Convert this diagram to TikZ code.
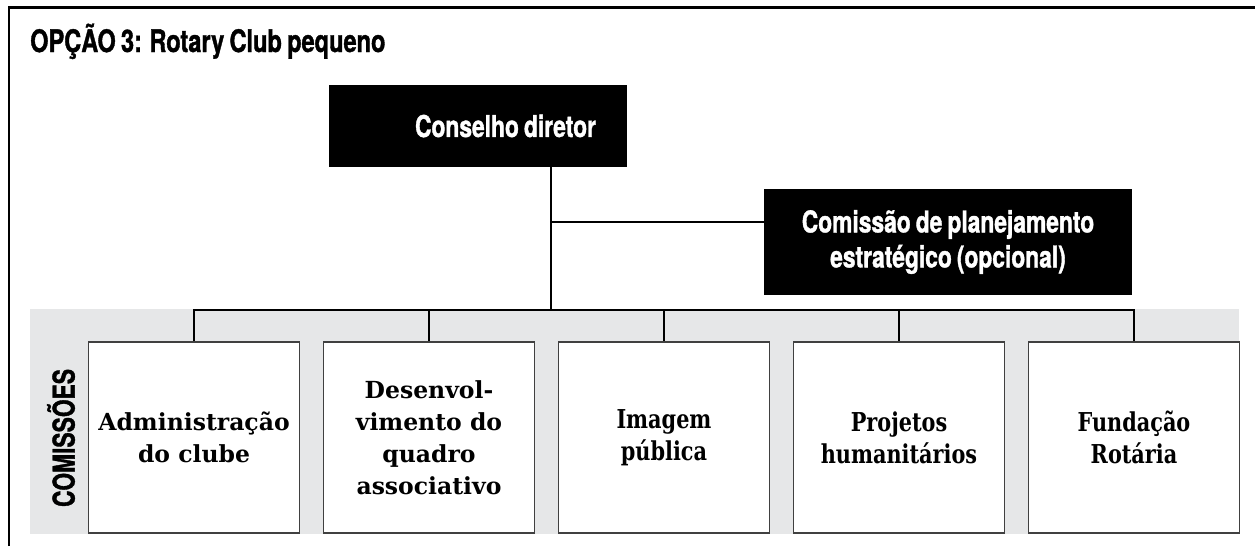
\documentclass[tikz,border=0pt]{standalone}
\usepackage{fontspec}
\setmainfont{DejaVu Serif}
\newfontfamily\headfont[FakeStretch=0.76,WordSpace=0.8,BoldFeatures={FakeBold=1.2}]{TeX Gyre Heros}
\newfontfamily\narrowfont[FakeStretch=0.8]{DejaVu Serif}
\usepackage{xcolor}
\definecolor{bandgray}{HTML}{E6E7E8}
\definecolor{boxline}{HTML}{404040}

\begin{document}
\begin{tikzpicture}[x=1pt,y=-1pt]
						\tikzstyle{head} = [font=\headfont\bfseries\fontsize{30}{35}\selectfont]
						\tikzstyle{blackbox} = [head,rectangle,fill=black,text=white,inner sep=0pt,align=center]
						\tikzstyle{comm} = [rectangle,fill=white,draw=boxline,line width=1.5pt,minimum width=211pt,minimum height=191pt,inner sep=0pt,align=center,font=\bfseries\fontsize{23.5}{32}\selectfont]
						\tikzstyle{comm2} = [comm,font=\narrowfont\bfseries\fontsize{26}{32}\selectfont]
						\tikzstyle{edge} = [-,line width=2pt,black]
						\useasboundingbox (0,0) rectangle (1255,546);
						% frame and band
						\fill[bandgray] (30,309) rectangle (1239,534);
						\draw[line width=2.5pt] (9,546) -- (9,7.5) -- (1255,7.5);
						\node[head,font=\headfont\bfseries\fontsize{31}{35}\selectfont,anchor=base west,inner sep=0pt] (title) at (30,52) {OPÇÃO 3: Rotary Club pequeno};
						\node[blackbox,minimum width=298pt,minimum height=82pt] (n1) at (478,126) {\hspace*{55pt}Conselho diretor};
						\node[blackbox,minimum width=368pt,minimum height=106pt] (n2) at (948,242) {Comissão de planejamento\\estratégico (opcional)};
						\node[head,rotate=90,inner sep=0pt] (side) at (61,438) {COMISSÕES};
						\node[comm] (c1) at (194,437.5) {Administração\\do clube};
						\node[comm] (c2) at (429,437.5) {Desenvol-\\vimento do\\quadro\\associativo};
						\node[comm2] (c3) at (664,437.5) {Imagem\\pública};
						\node[comm2] (c4) at (899,437.5) {Projetos\\humanitários};
						\node[comm2] (c5) at (1134,437.5) {Fundação\\Rotária};
						\coordinate (tap) at (551,222);
						\coordinate (bus) at (551,310);
						\draw[edge] (n1.south -| tap)--(bus);
						\draw[edge] (tap)--(tap -| n2.west);
						\draw[edge] (c1.north)--(c1.north |- bus)--(c5.north |- bus)--(c5.north);
						\draw[edge] (c2.north |- bus)--(c2.north);
						\draw[edge] (c3.north |- bus)--(c3.north);
						\draw[edge] (c4.north |- bus)--(c4.north);
						\end{tikzpicture}
\end{document}
